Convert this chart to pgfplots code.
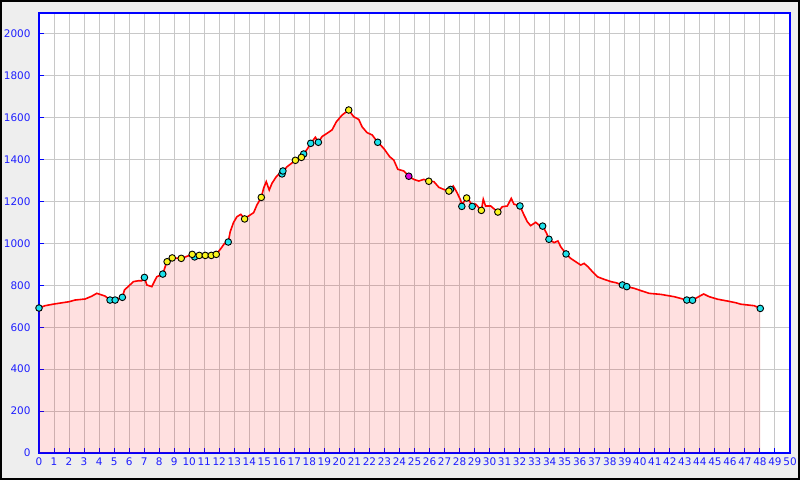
\documentclass[border=0pt]{standalone}
\usepackage{fontspec}
\setmainfont{DejaVu Sans}
\usepackage{pgfplots}
\usepackage{pgfplotstable}
\pgfplotsset{compat=1.18}
\definecolor{bgc}{RGB}{238,238,238}
\definecolor{gridc}{RGB}{200,200,200}
\definecolor{axc}{RGB}{0,0,255}
\definecolor{lblc}{RGB}{30,30,255}
\definecolor{cyanm}{RGB}{30,225,235}
\definecolor{yelm}{RGB}{250,245,30}
\definecolor{magm}{RGB}{225,0,225}
\pgfplotstableread{
x y
0 692
0.4 703
1 711
2 722
2.4 730
3.07 735
3.5 748
3.85 762
4.4 749
4.73 730
5.07 730
5.55 743
5.69 778
6.29 818
6.62 822
6.84 822
7.02 838
7.18 802
7.51 794
7.84 841
8.24 854
8.51 913
8.87 931
9.47 929
10.22 948
10.62 943
11.02 943
11.47 943
11.8 948
12.1 975
12.35 1000
12.6 1007
12.73 1056
12.95 1100
13.18 1128
13.44 1139
13.69 1117
13.95 1131
14.29 1147
14.51 1184
14.8 1220
14.95 1263
15.13 1295
15.33 1255
15.51 1287
15.8 1319
16.02 1335
16.2 1341
16.51 1366
17.07 1397
17.47 1411
17.62 1427
17.89 1454
18.09 1478
18.4 1507
18.6 1483
18.84 1510
19.18 1526
19.51 1542
19.8 1581
20.18 1613
20.62 1637
20.95 1605
21.29 1592
21.51 1557
21.84 1529
22.18 1518
22.55 1483
22.95 1454
23.35 1414
23.62 1398
23.89 1354
24.29 1346
24.62 1321
24.95 1306
25.29 1298
25.62 1306
25.95 1297
26.29 1295
26.62 1268
26.95 1258
27.29 1250
27.58 1274
27.8 1247
28.07 1207
28.15 1185
28.47 1217
28.62 1207
28.84 1182
29.07 1188
29.45 1158
29.58 1211
29.73 1179
30.07 1179
30.55 1150
30.84 1175
31.18 1179
31.44 1215
31.62 1188
32.02 1179
32.29 1136
32.51 1104
32.73 1085
33.07 1101
33.29 1088
33.53 1083
33.8 1048
33.95 1020
34.29 1004
34.55 1012
34.73 985
35.09 950
35.4 929
35.73 913
36.07 897
36.29 905
36.55 889
36.85 865
37.18 841
37.62 829
38.07 818
38.4 813
38.84 802
39.13 794
39.62 786
40.07 775
40.62 762
41.4 757
42.29 746
43.13 730
43.51 729
43.84 743
44.25 759
44.62 746
45.18 734
45.85 725
46.4 717
46.73 710
47.62 703
48.02 690
}\prof
\pgfplotstableread{
x y
0 692
4.73 730
5.07 730
5.55 743
7.02 838
8.24 854
10.36 936
12.6 1007
16.18 1332
16.24 1346
17.62 1427
18.09 1478
18.6 1483
22.55 1483
27.4 1258
28.15 1177
28.84 1177
32.02 1179
33.53 1083
33.95 1020
35.09 950
38.84 802
39.13 794
43.13 730
43.51 729
48.02 690
}\cyanpts
\pgfplotstableread{
x y
8.53 913
8.87 931
9.47 929
10.2 948
10.67 943
11.07 943
11.47 943
11.8 948
13.69 1117
14.8 1220
17.07 1397
17.47 1411
20.62 1637
25.95 1297
27.29 1250
28.47 1217
29.45 1158
30.55 1150
}\yelpts
\pgfplotstableread{
x y
24.62 1321
}\magpts
\begin{document}
\begin{tikzpicture}
\fill[bgc, draw=black, line width=2bp] (-38bp,-26bp) rectangle (760bp,452bp);
\begin{axis}[
  at={(0,0)}, anchor=south west,
  scale only axis, width=751bp, height=440bp,
  xmin=0, xmax=50, ymin=0, ymax=2100,
  xtick={0,1,...,50}, ytick={0,200,...,2000},
  grid=major, major grid style={gridc, line width=1bp},
  axis background/.style={fill=white},
  axis line style={axc, line width=1.2bp},
  tick style={axc, line width=1bp},
  major tick length=5bp,
  tick align=inside, tick pos=left,
  ticklabel style={font=\fontsize{10.5}{12}\selectfont, text=lblc},
  xticklabel style={yshift=-1.5bp},
  yticklabel style={xshift=-5bp},
  /pgf/number format/assume math mode=true,
  /pgf/number format/1000 sep={},
  clip=true,
]
\addplot[draw=none, fill=red, fill opacity=0.12] table[x=x,y=y] {\prof} \closedcycle;
\addplot[red, line width=1.6bp] table[x=x,y=y] {\prof};
\addplot[only marks, mark=*, mark size=3.3bp, mark options={fill=cyanm, draw=black, line width=0.9bp}] table[x=x,y=y] {\cyanpts};
\addplot[only marks, mark=*, mark size=3.3bp, mark options={fill=yelm, draw=black, line width=0.9bp}] table[x=x,y=y] {\yelpts};
\addplot[only marks, mark=*, mark size=3.3bp, mark options={fill=magm, draw=black, line width=0.9bp}] table[x=x,y=y] {\magpts};
\end{axis}
\end{tikzpicture}
\end{document}
